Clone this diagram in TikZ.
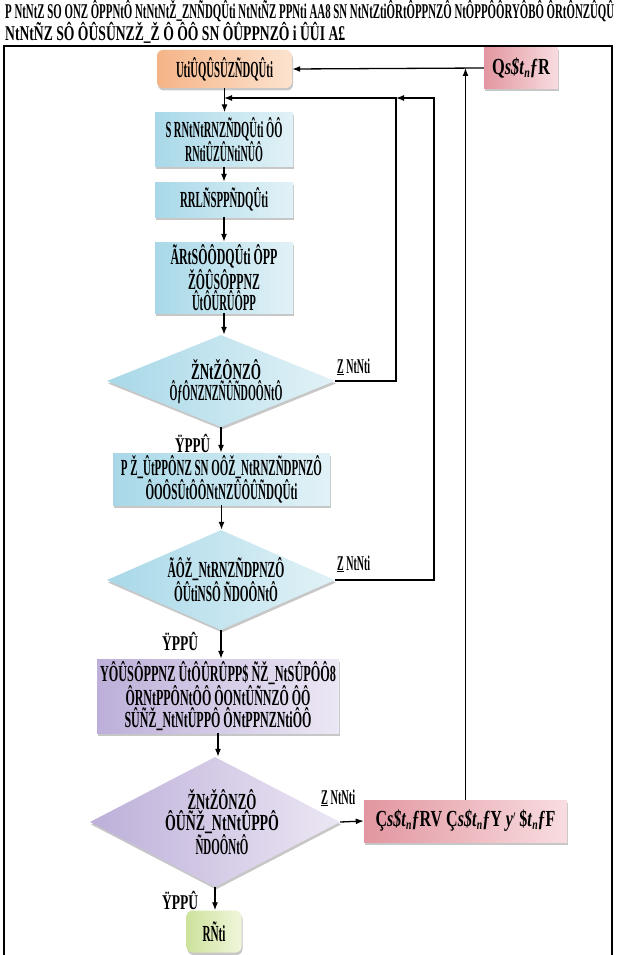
\documentclass[tikz,border=0pt]{standalone}
\usepackage{graphicx}
\usepackage{fontspec}
\setmainfont{Liberation Serif}
\usetikzlibrary{shapes.geometric,arrows.meta,shadows}
\newcommand\sq[2]{\resizebox{#1pt}{\height}{#2}}
\definecolor{blA}{HTML}{A8D8E8}
\definecolor{blB}{HTML}{E2F2F7}
\definecolor{orA}{HTML}{F5B487}
\definecolor{orB}{HTML}{FCE3CF}
\definecolor{puA}{HTML}{BDAFD9}
\definecolor{puB}{HTML}{ECE7F4}
\definecolor{piA}{HTML}{E296A0}
\definecolor{piB}{HTML}{F8DDE0}
\definecolor{grA}{HTML}{CDE29C}
\definecolor{grB}{HTML}{F0F6DB}
\tikzset{
  conn/.style={line width=1.3pt},
  arr/.style={conn,-{Latex[length=8pt,width=6pt]}},
  txt/.style={inner sep=0pt,align=center,font=\fontsize{23}{19.5}\selectfont\bfseries},
  boxbase/.style={rectangle,inner sep=0pt,align=center,font=\fontsize{23}{19.5}\selectfont\bfseries,
    drop shadow={shadow xshift=1pt,shadow yshift=-2.5pt,fill=black!40,opacity=0.55}},
  bluebox/.style={boxbase,left color=blA,right color=blB},
  purplebox/.style={boxbase,left color=puA,right color=puB},
  pinkbox/.style={boxbase,left color=piA,right color=piB},
  orangebox/.style={boxbase,rounded corners=6pt,left color=orA,right color=orB},
  greenbox/.style={boxbase,rounded corners=6pt,left color=grA,right color=grB},
  dia/.style={diamond,inner sep=0pt,drop shadow={shadow xshift=1pt,shadow yshift=-2.5pt,fill=black!40,opacity=0.55}},
  bluedia/.style={dia,left color=blA,right color=blB},
  purpledia/.style={dia,left color=puA,right color=puB},
  lab/.style={inner sep=0pt,anchor=base west,font=\fontsize{21}{21}\selectfont\bfseries},
  ttl/.style={anchor=base west,inner sep=0pt,font=\fontsize{21}{21}\selectfont\bfseries},
}
\begin{document}
\begin{tikzpicture}[x=1pt,y=-1pt]
\useasboundingbox (0,0) rectangle (616,955);
\fill[white] (0,0) rectangle (616,955);
% title
\node[ttl] (title1) at (5,19)
  {\sq{609}{P NtNtZ SO ONZ ÔPPNtÔ NtNtNtŽ\_ZNÑDQÛti NtNtÑZ PPNti AA8 SN NtNtZtiÔRtÔPPNZÔ NtÔPPÔÔRYÔBÔ ÔRtÔNZÛQÛ}};
\node[ttl] (title2) at (5,41)
  {\sq{340}{NtNtÑZ SÔ ÔÛSÛNZŽ\_Ž Ô ÔÔ SN ÔÛPPNZÔ i ÛÛI A£}};
% frame
\draw[line width=1.6pt] (4,46) rectangle (612,958);
% nodes
\node[orangebox,minimum width=135pt,minimum height=38pt] (start) at (224.5,69) {\sq{97}{UtiÛQÛSÛZÑDQÛti}};
\node[pinkbox,minimum width=74pt,minimum height=41pt] (qtop) at (521,68)
  {\sq{58}{Q\textit{s\$t}\raisebox{-3pt}{\fontsize{14}{14}\selectfont\textit{n}}\textit{ƒ}R}};
\node[bluebox,minimum width=138pt,minimum height=54pt] (b1) at (224,139.5)
  {\sq{117}{S RNtNtRNZÑDQÛti ÔÔ}\\\sq{78}{RNtiÛZÛNtiNÛÔ}};
\node[bluebox,minimum width=138pt,minimum height=35pt] (b2) at (224,199.5) {\sq{88}{RRLÑSPPÑDQÛti}};
\node[bluebox,minimum width=138pt,minimum height=71pt] (b3) at (224,277.5)
  {\sq{107}{ÃRtSÔÔDQÛti ÔPP}\\\sq{72}{ŽÔÛSÔPPNZ}\\\sq{64}{ÛtÔÛRÛÔPP}};
\node[bluedia,minimum width=228pt,minimum height=92pt] (d1) at (221,381) {};
\node[txt] (d1t) at (226,382) {\sq{70}{ŽNtŽÔNZÔ}\\\sq{113}{ÔƒÔNZNZÑÛÑDOÔNtÔ}};
\node[bluebox,minimum width=217pt,minimum height=52pt] (b4) at (221.5,479)
  {\sq{201}{P Ž\_ÛtPPÔNZ SN OÔŽ\_NtRNZÑDPNZÔ}\\\sq{152}{ÔOÔSÛtÔÔNtNZÛÔÛÑDQÛti}};
\node[bluedia,minimum width=228pt,minimum height=100pt] (d2) at (221,580) {};
\node[txt] (d2t) at (226,580) {\sq{117}{ÃÔŽ\_NtRNZÑDPNZÔ}\\\sq{104}{ÔÛtiNSÔ ÑDOÔNtÔ}};
\node[purplebox,minimum width=242pt,minimum height=74pt] (b5) at (218,696)
  {\sq{236}{YÔÛSÔPPNZ ÛtÔÛRÛPP\$ ÑŽ\_NtSÛPÔÔ8}\\\sq{185}{ÔRNtPPÔNtÔÔ ÔONtÛÑNZÔ ÔÔ}\\\sq{187}{SÛÑŽ\_NtNtÛPPÔ ÔNtPPNZNtiÔÔ}};
\node[purpledia,minimum width=250pt,minimum height=130pt] (d3) at (215,822) {};
\node[txt] (d3t) at (222,822) {\sq{69}{ŽNtŽÔNZÔ}\\\sq{114}{ÔÛÑŽ\_NtNtÛPPÔ}\\\sq{53}{ÑDOÔNtÔ}};
\node[pinkbox,minimum width=203pt,minimum height=42pt] (q2) at (465.5,821)
  {\sq{180}{Ç\textit{s\$t}\raisebox{-3pt}{\fontsize{14}{14}\selectfont\textit{n}}\textit{ƒ}RV Ç\textit{s\$t}\raisebox{-3pt}{\fontsize{14}{14}\selectfont\textit{n}}\textit{ƒ}Y \textit{y}\raisebox{7pt}{\fontsize{12}{12}\selectfont$\prime$} \$\textit{t}\raisebox{-3pt}{\fontsize{14}{14}\selectfont\textit{n}}\textit{ƒ}F}};
\node[greenbox,minimum width=55pt,minimum height=42pt] (endn) at (214,931.5) {\sq{23}{RÑti}};
% labels
\node[lab] (no1) at (337,373) {\sq{33}{\underline{Z} NtNti}};
\node[lab] (no2) at (337,570) {\sq{33}{\underline{Z} NtNti}};
\node[lab] (no3) at (321,804) {\sq{34}{\underline{Z} NtNti}};
\node[lab] (yes1) at (175,452) {\sq{35}{ŸPPÛ}};
\node[lab] (yes2) at (162,650) {\sq{36}{ŸPPÛ}};
\node[lab] (yes3) at (162,909) {\sq{36}{ŸPPÛ}};
% coordinates
\coordinate (j1) at (224,98);
\coordinate (c1) at (396,98);
\coordinate (c2) at (434,98);
\coordinate (j2) at (465.5,68);
% connectors
\draw[arr] (qtop.west) -- (start.east);
\draw[arr] (start.south) -- (start.south |- b1.north);
\draw[arr] (b1.south) -- (b1.south |- b2.north);
\draw[arr] (b2.south) -- (b2.south |- b3.north);
\draw[arr] (b3.south) -- (b3.south |- d1.north);
\draw[arr] (d1.south) -- (d1.south |- b4.north);
\draw[arr] (b4.south) -- (b4.south |- d2.north);
\draw[arr] (d2.south) -- (d2.south |- b5.north);
\draw[arr] (b5.south) -- (b5.south |- d3.north);
\draw[arr] (d3.south) -- (d3.south |- endn.north);
\draw[arr] (d1.east) -| (c1) -- (j1);
\draw[arr] (d2.east) -| (c2) -- (c1);
\draw[arr] (d3.east) -- (q2.west);
\draw[arr] (q2.north) -- (j2);
\end{tikzpicture}
\end{document}
